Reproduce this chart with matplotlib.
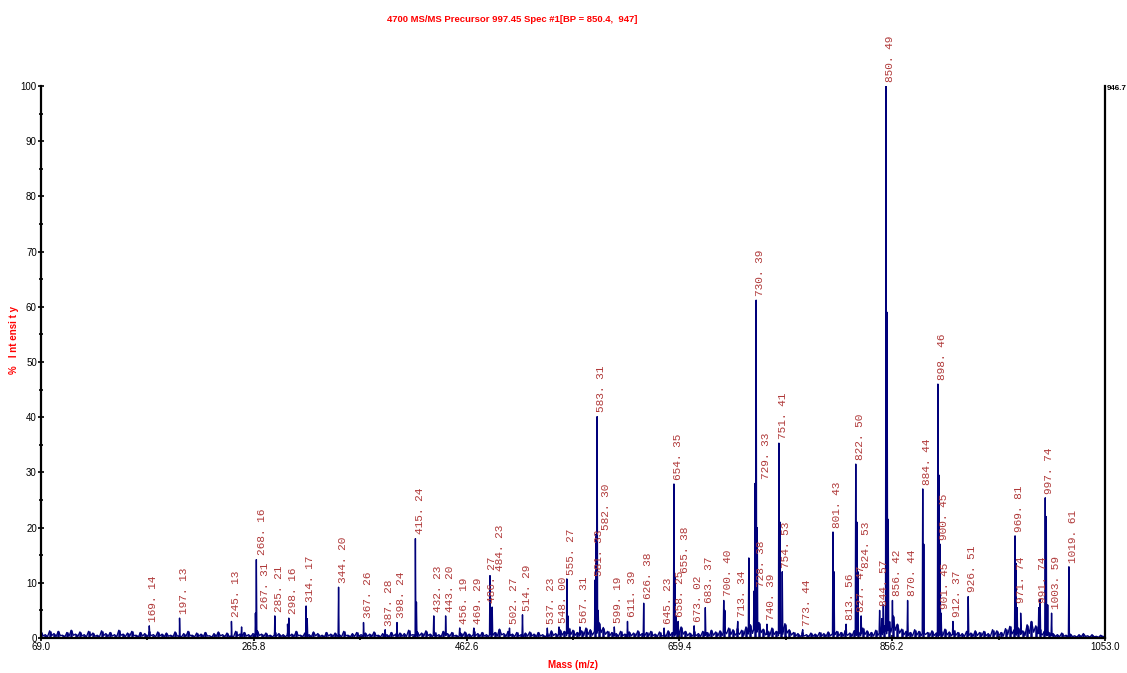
import numpy as np
import matplotlib
matplotlib.use("Agg")
import matplotlib.pyplot as plt

plt.rcParams.update({
    "font.family": ["Liberation Sans Narrow", "Liberation Sans", "DejaVu Sans"],
})

# ---------- data ----------
title = "4700 MS/MS Precursor 997.45 Spec #1[BP = 850.4,  947]"
base_abs = "946.7"
x_ticks = [69.0, 265.8, 462.6, 659.4, 856.2, 1053.0]

# labelled peaks: m/z and % intensity
label_mz = [169.14, 197.13, 245.13, 267.31, 268.16, 285.21, 298.16, 314.17, 344.20,
            367.26, 387.28, 398.24, 415.24, 432.23, 443.20, 456.19, 469.29, 484.23,
            486.27, 502.27, 514.29, 537.23, 548.00, 555.27, 567.31, 581.33, 582.30,
            583.31, 599.19, 611.39, 626.38, 645.23, 654.35, 655.38, 658.25, 673.02,
            683.37, 700.40, 713.34, 728.38, 729.33, 730.39, 740.39, 751.41, 754.53,
            773.44, 801.43, 813.56, 822.50, 824.53, 827.47, 844.57, 850.49, 856.42,
            870.44, 884.44, 898.46, 900.45, 901.45, 912.37, 926.51, 969.81, 971.74,
            991.74, 997.74, 1003.59, 1019.61]
label_int = [2.2, 3.6, 3.0, 4.5, 14.2, 4.0, 3.6, 5.8, 9.2,
             2.8, 1.5, 2.8, 18.0, 4.0, 4.0, 1.8, 1.8, 11.3,
             5.6, 1.8, 4.2, 1.8, 2.0, 10.7, 2.0, 10.5, 18.8,
             40.1, 2.0, 3.0, 6.3, 1.8, 27.9, 11.0, 3.0, 2.2,
             5.5, 6.8, 3.0, 8.5, 28.0, 61.2, 2.5, 35.3, 12.0,
             1.5, 19.2, 2.5, 31.5, 12.0, 4.0, 5.0, 100.0, 6.8,
             6.8, 27.0, 46.0, 17.0, 4.5, 3.0, 7.5, 18.5, 5.5,
             5.5, 25.4, 4.5, 12.9]

# unlabelled peaks (shoulders / isotopes)
extra_mz = [254.5, 297.0, 315.2, 416.2, 485.2, 556.3, 584.3, 656.4, 701.4, 723.6,
            731.4, 752.4, 802.4, 823.5, 846.5, 848.0, 851.5, 852.5, 885.4, 899.5,
            970.8, 975.0, 993.0, 998.7, 1000.0]
extra_int = [2.0, 2.5, 3.5, 6.5, 4.5, 4.0, 5.0, 4.0, 5.0, 14.5,
             20.0, 21.0, 12.0, 21.0, 3.5, 6.0, 59.0, 21.5, 17.0, 29.5,
             13.5, 4.5, 7.0, 22.0, 6.0]

# baseline "grass" level, one value every 4 m/z from 69 to 1053
noise_level = [
    1.1, 0.6, 1.3, 0.8, 1.2, 0.5, 1.0, 1.4, 0.7, 1.1, 0.6, 1.2, 0.9, 0.5, 1.3, 0.8, 1.0, 0.6, 1.4, 0.7,
    0.9, 1.2, 0.5, 1.0, 0.8, 1.3, 0.6, 1.1, 0.7,
    0.9, 0.5, 1.1, 0.6, 0.8, 1.2, 0.5, 0.9, 0.7, 1.0, 0.4, 0.8, 1.1, 0.6, 0.9, 0.5, 1.2, 0.7, 1.0, 0.6,
    0.8, 1.3, 0.7, 0.9, 0.5, 1.1, 0.8, 0.6, 1.0, 0.7, 1.2, 0.5, 0.9, 0.6, 1.1, 0.8, 0.5, 1.0, 0.7, 0.9,
    0.6, 1.2, 0.5, 0.8, 1.0, 0.6, 0.9, 0.7, 1.1, 0.5, 0.8, 0.6, 1.0, 0.7, 0.9,
    0.8, 1.4, 0.6, 1.1, 0.9, 1.3, 0.7, 1.0, 0.6, 1.2, 0.8, 1.0, 0.5, 0.9, 1.1, 0.7, 1.3, 0.8, 1.0, 0.6,
    1.4, 1.0, 1.6, 0.8, 1.2, 0.7, 1.0, 0.6, 0.9, 1.1, 0.7, 1.0, 0.6, 0.9, 1.3, 0.8, 1.5, 1.2, 1.8, 1.4,
    1.0, 1.3, 1.8, 1.5, 2.4, 2.8, 1.9, 1.2, 1.0, 0.8, 1.2, 0.7, 1.1, 0.9, 1.3, 0.8, 1.0, 1.2, 0.7, 1.1,
    0.8, 1.3, 1.0, 1.6, 2.0, 1.2, 0.9, 1.3, 0.8, 1.2, 1.0, 1.4, 1.1, 1.3,
    2.2, 1.8, 1.5, 1.9, 1.4, 2.0, 2.4, 3.0, 2.8, 1.6, 1.3, 1.8, 1.2, 1.9, 2.6, 1.5, 1.0, 0.8, 1.1, 0.6,
    0.9, 0.7, 1.0, 0.8, 1.1,
    1.6, 1.2, 1.0, 1.4, 0.9, 1.3, 1.1, 1.8, 1.3, 1.0, 1.4, 1.7, 2.2, 3.0, 4.0, 2.5, 1.6, 1.2, 1.0, 1.5,
    1.2, 1.8, 1.0, 1.3, 0.9, 1.2, 1.6, 1.1, 1.4, 1.0, 0.8, 1.2, 0.9, 1.3, 1.0, 1.2, 0.8, 1.5, 1.3, 1.0,
    1.7, 2.1, 1.5, 1.8, 1.3, 2.4, 3.0, 2.2, 1.6, 1.2, 1.0, 0.8, 0.6, 0.9, 0.5, 0.7, 0.4, 0.6, 0.8, 0.4,
    0.6, 0.3, 0.5, 0.4,
]
noise_mz = np.arange(69, 1054, 4)

# small sideways nudges (points) for crowded labels
nudge = {267.31: 4, 268.16: 1, 486.27: -3, 484.23: 4, 581.33: 0, 582.30: 4,
         655.38: 4, 658.25: -2, 728.38: 2, 729.33: 5, 824.53: 3, 827.47: -3}

# ---------- build the profile trace ----------
pk_mz = np.array(label_mz + extra_mz)
pk_int = np.array(label_int + extra_int)
base = np.interp(pk_mz, noise_mz, noise_level) * 0.5
xs = np.concatenate([noise_mz, noise_mz + 2.0, pk_mz - 0.45, pk_mz, pk_mz + 0.45])
ys = np.concatenate([noise_level, np.array(noise_level) * 0.35, base, pk_int, base])
order = np.argsort(xs, kind="stable")
xs, ys = xs[order], ys[order]

# ---------- figure ----------
fig = plt.figure(figsize=(11.27, 6.73), dpi=100)
ax = fig.add_axes([41 / 1127, 35 / 673, 1064 / 1127, 552 / 673])

navy = "#00007a"
ax.vlines(noise_mz, 0, noise_level, color=navy, lw=1.8)
ax.plot(xs, ys, color=navy, lw=1.0)

lab_color = "#b03a3a"
for m, h in zip(label_mz, label_int):
    txt = f"{m:.2f}".replace(".", ". ")
    ax.annotate(txt, (m, h), xytext=(3 + nudge.get(m, 0), 3), textcoords="offset points",
                rotation=90, ha="center", va="bottom", fontsize=8,
                family=["Liberation Mono", "DejaVu Sans Mono"], color=lab_color)

ax.set_xlim(69.0, 1053.0)
ax.set_ylim(0, 100)
ax.set_xticks(x_ticks)
ax.set_xticklabels([f"{v:.1f}" for v in x_ticks])
ax.set_xticks([(a + b) / 2 for a, b in zip(x_ticks[:-1], x_ticks[1:])], minor=True)
ax.set_yticks(range(0, 101, 10))
ax.set_yticks(range(5, 100, 10), minor=True)

for s in ["left", "bottom", "right"]:
    ax.spines[s].set_linewidth(1.6)
ax.spines["top"].set_visible(False)
ax.tick_params(axis="both", which="major", direction="inout", length=4, width=1.2,
               labelsize=7, pad=1)
ax.tick_params(axis="both", which="minor", direction="inout", length=3, width=1.2)
ax.tick_params(axis="y", right=False)

fig.text(512 / 1127, 1 - 20 / 673, title, color="red", fontsize=6.8, weight="bold",
         ha="center", va="center")
fig.text(1107 / 1127, 1 - 89 / 673, base_abs, color="black", fontsize=5.8, weight="bold",
         ha="left", va="center")
fig.text(14 / 1127, 1 - 340 / 673, "%   I nt ensi t y", color="red", fontsize=7,
         weight="bold", rotation=90, ha="center", va="center")
fig.text(573 / 1127, 1 - 665 / 673, "Mass (m/z)", color="red", fontsize=7,
         weight="bold", ha="center", va="center")

fig.savefig("out.png", dpi=100)
